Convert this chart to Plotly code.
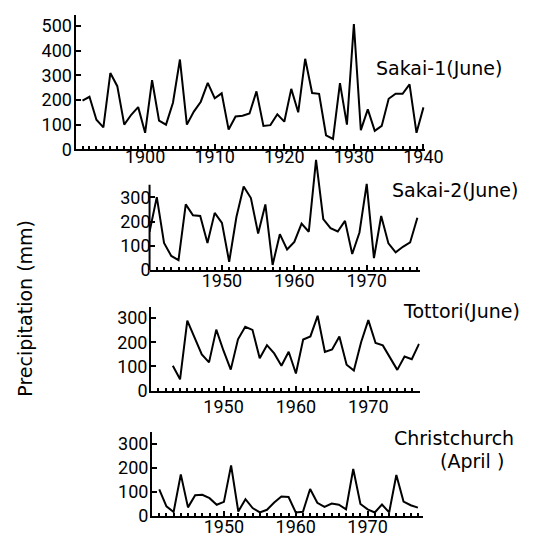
import plotly.graph_objects as go

# ---------------- data ----------------
sakai1_years = list(range(1891, 1941))
sakai1_vals = [197, 213, 120, 89, 309, 256, 100, 140, 171, 67,
               280, 116, 100, 189, 364, 100, 153, 193, 269, 207,
               227, 80, 133, 136, 145, 235, 95, 98, 142, 112,
               245, 150, 367, 228, 225, 57, 42, 268, 100, 508,
               78, 162, 75, 95, 205, 225, 225, 263, 67, 170]

sakai2_years = list(range(1940, 1978))
sakai2_vals = [158, 301, 112, 58, 41, 271, 226, 223, 112, 236,
               195, 34, 219, 345, 297, 151, 271, 21, 148, 85,
               116, 192, 158, 455, 210, 173, 159, 203, 66, 155,
               356, 49, 223, 110, 73, 96, 114, 216]

tottori_years = list(range(1943, 1978))
tottori_vals = [103, 47, 289, 221, 150, 117, 252, 165, 87, 212,
                264, 251, 134, 188, 154, 103, 161, 71, 211, 224,
                309, 160, 170, 224, 107, 83, 200, 291, 197, 187,
                134, 86, 141, 130, 193]

christ_years = list(range(1941, 1978))
christ_vals = [111, 40, 17, 173, 36, 86, 88, 74, 47, 59,
               210, 19, 70, 33, 15, 26, 56, 81, 79, 15,
               18, 112, 55, 38, 52, 47, 28, 195, 50, 28,
               15, 48, 15, 170, 60, 45, 35]

x_ticks_1 = [1900, 1910, 1920, 1930, 1940]
x_ticks_2 = [1950, 1960, 1970]
y_ticks_1 = [0, 100, 200, 300, 400, 500]
y_ticks_2 = [0, 100, 200, 300]

titles = ["Sakai-1(June)", "Sakai-2(June)", "Tottori(June)", "Christchurch", "(April )"]
y_title = "Precipitation (mm)"

# ---------------- layout helpers ----------------
W, H = 542, 537
def fx(px):
    return px / W
def fy(py):
    return 1 - py / H

TICKFONT = dict(family="Liberation Sans Narrow, Arial Narrow, Roboto, sans-serif", size=18, color="black")
LABFONT = dict(family="DejaVu Sans, sans-serif", size=19, color="black")

fig = go.Figure()

series = [
    (sakai1_years, sakai1_vals, "x", "y"),
    (sakai2_years, sakai2_vals, "x2", "y2"),
    (tottori_years, tottori_vals, "x3", "y3"),
    (christ_years, christ_vals, "x4", "y4"),
]
for yrs, vals, xa, ya in series:
    fig.add_trace(go.Scatter(x=yrs, y=vals, mode="lines", xaxis=xa, yaxis=ya,
                             line=dict(color="black", width=2), showlegend=False))

# panel geometry (pixel positions of axes)
panels = [
    # xleft, xright, xrange, ybottom, ytop, yrange, xtick0, show y line, xticks, yticks, x label standoff
    (70, 432, [1890, 1940.2], 144, 7, [0, 545], 1900, True, x_ticks_1, y_ticks_1, -10),
    (146.7, 426.5, [1940, 1977.3], 267, 151, [0, 470], 1950, False, x_ticks_2, y_ticks_2, -7),
    (148.3, 426.7, [1940, 1977.1], 390, 305, [0, 344], 1950, True, x_ticks_2, y_ticks_2, -1),
    (149.3, 430, [1940, 1977.7], 517.7, 431.7, [0, 350], 1950, True, x_ticks_2, y_ticks_2, -7),
]

layout = dict(width=W, height=H, margin=dict(l=0, r=0, t=0, b=0),
              paper_bgcolor="white", plot_bgcolor="white", showlegend=False)

for i, (xl, xr, xrng, yb, yt, yrng, t0, showy, xt, yt_vals, stand) in enumerate(panels):
    n = "" if i == 0 else str(i + 1)
    layout["xaxis" + n] = dict(
        domain=[fx(xl), fx(xr)], range=xrng, anchor="y" + n,
        showgrid=False, zeroline=False, showline=True, linecolor="black", linewidth=2,
        ticks="inside", ticklen=5, tickwidth=2, tickcolor="black",
        tickvals=xt, tickfont=TICKFONT, ticklabelstandoff=stand,
        minor=dict(ticks="inside", ticklen=3, tickwidth=1.5, tickcolor="black",
                   dtick=1, tick0=t0, showgrid=False),
    )
    layout["yaxis" + n] = dict(
        domain=[fy(yb), fy(yt)], range=yrng, anchor="x" + n,
        showgrid=False, zeroline=False, showline=showy, linecolor="black", linewidth=2,
        ticks="inside", ticklen=5, tickwidth=2, tickcolor="black",
        tickvals=yt_vals, tickfont=TICKFONT, ticklabelstandoff=-2,
    )

fig.update_layout(**layout)

# y-axis line for Sakai-2 stops at the top of its scale
fig.add_shape(type="line", xref="x2 domain", x0=0, x1=0, yref="y2", y0=0, y1=352,
              line=dict(color="black", width=2))

# panel titles
title_pos = [(447, 61), (463, 185), (470, 309), (462, 438), (481, 462)]
for t, (px, py) in zip(titles, title_pos):
    fig.add_annotation(text=t, x=fx(px), y=fy(py), xref="paper", yref="paper",
                       showarrow=False, font=LABFONT, xanchor="center", yanchor="middle")

fig.add_annotation(text=y_title, x=fx(18), y=fy(306), xref="paper", yref="paper",
                   showarrow=False, textangle=-90, font=LABFONT,
                   xanchor="center", yanchor="middle")

fig.write_html("out.html")
